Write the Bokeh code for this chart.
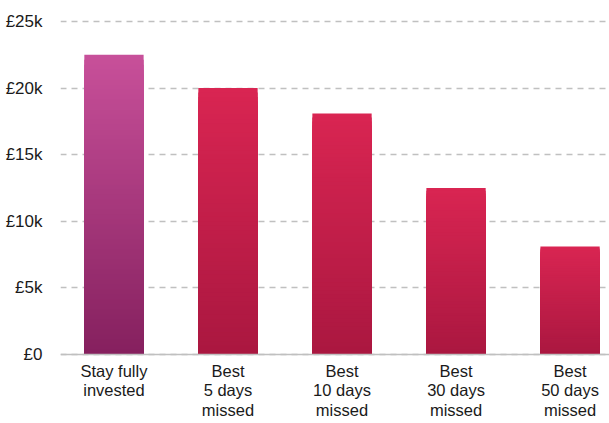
from bokeh.plotting import figure
from bokeh.models import Range1d, FixedTicker, Span
from bokeh.embed import file_html
from bokeh.resources import INLINE
from bokeh.core.properties import value

# ---- data ----
categories = ["Stay fully\ninvested", "Best\n5 days\nmissed", "Best\n10 days\nmissed",
              "Best\n30 days\nmissed", "Best\n50 days\nmissed"]
values = [22500, 20000, 18100, 12500, 8100]
y_ticks = [0, 5000, 10000, 15000, 20000, 25000]
y_tick_labels = ["£0", "£5k", "£10k", "£15k", "£20k", "£25k"]

# gradient end colours (top, bottom) per bar
grad_first = ((0xc8, 0x50, 0x9a), (0x85, 0x20, 0x5e))
grad_rest = ((0xd9, 0x25, 0x52), (0xaa, 0x17, 0x40))

FONT = "Liberation Sans"
TEXT = "#1a1a1a"

p = figure(width=609, height=423, output_backend="svg", toolbar_location=None,
           x_range=Range1d(-0.469, 4.346), y_range=Range1d(-5180, 25225),
           min_border_left=60, min_border_right=0, min_border_top=18, min_border_bottom=0)
p.outline_line_color = None
p.background_fill_color = "white"
p.border_fill_color = "white"

# gradient bars: layered slices, tallest first
N = 60
xs, tops, cols = [], [], []
for i, v in enumerate(values):
    (t_col, b_col) = grad_first if i == 0 else grad_rest
    for k in range(N):
        frac = (N - k) / N
        t = (N - k - 0.5) / N  # 0 bottom -> 1 top
        c = tuple(int(round(b_col[j] + (t_col[j] - b_col[j]) * t)) for j in range(3))
        xs.append(i)
        tops.append(v * frac)
        cols.append("#%02x%02x%02x" % c)
p.vbar(x=xs, top=tops, bottom=0, width=0.52, fill_color=cols, line_color=None)

# axis line at zero
p.add_layout(Span(location=0, dimension="width", line_color="#c0c0c0", line_width=1.5))

# category labels
p.text(x=list(range(len(categories))), y=[0] * len(categories), text=categories,
       text_align="center", text_baseline="top", y_offset=7,
       text_font=value(FONT), text_font_size="16.5px", text_color=TEXT,
       text_line_height=1.1)

# axes
p.xaxis.visible = False
p.xgrid.visible = False
yt = FixedTicker(ticks=y_ticks)
p.yaxis.ticker = yt
p.ygrid.ticker = yt
p.yaxis.major_label_overrides = {t: l for t, l in zip(y_ticks, y_tick_labels)}
p.yaxis.axis_line_color = None
p.yaxis.major_tick_line_color = None
p.yaxis.minor_tick_line_color = None
p.yaxis.major_label_standoff = 12
p.yaxis.major_label_text_font = FONT
p.yaxis.major_label_text_font_size = "17px"
p.yaxis.major_label_text_color = TEXT
p.ygrid.grid_line_color = "#c0c0c0"
p.ygrid.grid_line_dash = "6 5"
p.ygrid.grid_line_width = 1.5

open("out.html", "w").write(file_html(p, INLINE))
